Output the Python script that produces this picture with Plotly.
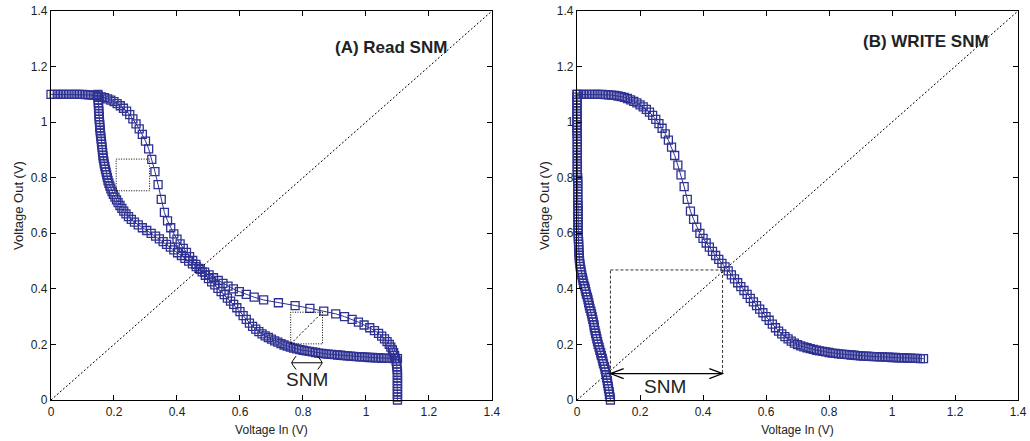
import plotly.graph_objects as go

# ---------------- data ----------------
# input sweep (V)
vin = [0.00, 0.01, 0.02, 0.03, 0.04, 0.05, 0.06, 0.07, 0.08, 0.09,
       0.10, 0.11, 0.12, 0.13, 0.14, 0.15, 0.16, 0.17, 0.18, 0.19,
       0.20, 0.21, 0.22, 0.23, 0.24, 0.25, 0.26, 0.27, 0.28, 0.29,
       0.30, 0.31, 0.32, 0.33, 0.34, 0.35, 0.36, 0.37, 0.38, 0.39,
       0.40, 0.41, 0.42, 0.43, 0.44, 0.45, 0.46, 0.47, 0.48, 0.49,
       0.50, 0.51, 0.52, 0.53, 0.54, 0.55, 0.56, 0.57, 0.58, 0.59,
       0.60, 0.61, 0.62, 0.63, 0.64, 0.65, 0.66, 0.67, 0.68, 0.69,
       0.70, 0.71, 0.72, 0.73, 0.74, 0.75, 0.76, 0.77, 0.78, 0.79,
       0.80, 0.81, 0.82, 0.83, 0.84, 0.85, 0.86, 0.87, 0.88, 0.89,
       0.90, 0.91, 0.92, 0.93, 0.94, 0.95, 0.96, 0.97, 0.98, 0.99,
       1.00, 1.01, 1.02, 1.03, 1.04, 1.05, 1.06, 1.07, 1.08, 1.09,
       1.10]

# (A) read: inverter output vs vin (the other half of the butterfly is its mirror)
read_vout = [1.100, 1.100, 1.100, 1.100, 1.100, 1.100, 1.100, 1.100, 1.100, 1.100,
             1.100, 1.099, 1.098, 1.097, 1.096, 1.094, 1.091, 1.088, 1.084, 1.079,
             1.074, 1.067, 1.059, 1.050, 1.040, 1.027, 1.012, 0.994, 0.976, 0.956,
             0.932, 0.904, 0.866, 0.822, 0.775, 0.722, 0.675, 0.645, 0.620, 0.598,
             0.579, 0.562, 0.546, 0.531, 0.516, 0.502, 0.488, 0.474, 0.461, 0.449,
             0.437, 0.425, 0.414, 0.402, 0.390, 0.379, 0.367, 0.356, 0.344, 0.332,
             0.318, 0.304, 0.290, 0.277, 0.265, 0.255, 0.246, 0.238, 0.231, 0.225,
             0.219, 0.213, 0.208, 0.203, 0.198, 0.194, 0.190, 0.187, 0.184, 0.181,
             0.179, 0.177, 0.175, 0.173, 0.171, 0.169, 0.168, 0.166, 0.165, 0.164,
             0.163, 0.162, 0.161, 0.160, 0.159, 0.158, 0.157, 0.156, 0.155, 0.155,
             0.154, 0.153, 0.153, 0.152, 0.152, 0.151, 0.151, 0.150, 0.150, 0.149,
             0.149]

# (B) write: inverter output vs vin
write_vout = [1.100, 1.100, 1.100, 1.100, 1.100, 1.100, 1.100, 1.100, 1.100, 1.099,
              1.098, 1.097, 1.096, 1.094, 1.092, 1.089, 1.085, 1.080, 1.075, 1.069,
              1.062, 1.055, 1.046, 1.036, 1.024, 1.010, 0.995, 0.978, 0.958, 0.935,
              0.910, 0.880, 0.845, 0.810, 0.768, 0.722, 0.680, 0.650, 0.622, 0.600,
              0.582, 0.565, 0.550, 0.535, 0.520, 0.506, 0.492, 0.479, 0.465, 0.450,
              0.436, 0.422, 0.408, 0.394, 0.380, 0.366, 0.353, 0.340, 0.327, 0.314,
              0.300, 0.287, 0.273, 0.260, 0.248, 0.238, 0.228, 0.220, 0.212, 0.205,
              0.199, 0.195, 0.191, 0.188, 0.185, 0.182, 0.179, 0.177, 0.175, 0.173,
              0.171, 0.169, 0.168, 0.166, 0.165, 0.164, 0.163, 0.162, 0.161, 0.160,
              0.159, 0.158, 0.158, 0.157, 0.156, 0.156, 0.155, 0.155, 0.154, 0.154,
              0.153, 0.153, 0.152, 0.152, 0.152, 0.151, 0.151, 0.150, 0.150, 0.149,
              0.149]

# (B) write: second inverter, input (x) for each output level in vin
write_b_in = [0.106, 0.105, 0.103, 0.102, 0.100, 0.099, 0.097, 0.096, 0.094, 0.093,
              0.091, 0.089, 0.087, 0.084, 0.082, 0.080, 0.077, 0.075, 0.072, 0.070,
              0.067, 0.065, 0.063, 0.061, 0.059, 0.057, 0.055, 0.054, 0.052, 0.050,
              0.048, 0.046, 0.044, 0.041, 0.039, 0.037, 0.035, 0.033, 0.030, 0.028,
              0.026, 0.024, 0.021, 0.019, 0.017, 0.015, 0.013, 0.012, 0.010, 0.009,
              0.008, 0.007, 0.007, 0.006, 0.006, 0.005, 0.005, 0.005, 0.004, 0.004,
              0.004, 0.003, 0.003, 0.003, 0.003, 0.003, 0.003, 0.003, 0.003, 0.003,
              0.003, 0.002, 0.002, 0.002, 0.002, 0.002, 0.002, 0.002, 0.002, 0.002,
              0.002, 0.001, 0.001, 0.001, 0.001, 0.001, 0.001, 0.001, 0.001, 0.001,
              0.001, 0.001, 0.001, 0.001, 0.001, 0.001, 0.000, 0.000, 0.000, 0.000,
              0.000, 0.000, 0.000, 0.000, 0.000, 0.000, 0.000, 0.000, 0.000, 0.000,
              0.000]

tick_vals = [0, 0.2, 0.4, 0.6, 0.8, 1.0, 1.2, 1.4]
tick_text = ["0", "0.2", "0.4", "0.6", "0.8", "1", "1.2", "1.4"]
panel_titles = ["(A) Read SNM", "(B) WRITE SNM"]
x_title = "Voltage In (V)"
y_title = "Voltage Out (V)"

# ---------------- styling ----------------
BLUE = "#2e3192"
FONT = "Liberation Sans, Arial, Helvetica, sans-serif"


def curve(x, y, xa, ya):
    return go.Scatter(
        x=x, y=y, xaxis=xa, yaxis=ya, mode="lines+markers",
        line=dict(color=BLUE, width=1),
        marker=dict(symbol="square-open", size=8, color=BLUE, line=dict(width=1.3)),
        cliponaxis=False, showlegend=False, hoverinfo="x+y",
    )


fig = go.Figure()
# panel A: butterfly curve (second half mirrored)
fig.add_trace(curve(vin, read_vout, "x", "y"))
fig.add_trace(curve(read_vout, vin, "x", "y"))
# panel B
fig.add_trace(curve(vin, write_vout, "x2", "y2"))
fig.add_trace(curve(write_b_in, vin, "x2", "y2"))


def axis(domain, anchor, title, title_size, standoff):
    return dict(
        domain=domain, anchor=anchor, range=[0, 1.4], automargin=False,
        tickmode="array", tickvals=tick_vals, ticktext=tick_text,
        ticks="inside", ticklen=5, tickwidth=1, tickcolor="black",
        showline=True, linecolor="black", linewidth=1.3, mirror="allticks",
        showgrid=False, zeroline=False,
        tickfont=dict(family=FONT, size=12, color="#222"),
        title=dict(text=title, font=dict(family=FONT, size=title_size, color="#222"),
                   standoff=standoff),
    )


fig.update_layout(
    width=1030, height=441,
    margin=dict(l=51, r=12, t=11, b=41),
    paper_bgcolor="white", plot_bgcolor="white",
    xaxis=axis([0, 0.456], "y", x_title, 12, 8),
    yaxis=axis([0, 1], "x", y_title, 13, 4),
    xaxis2=axis([0.544, 1], "y2", x_title, 12, 8),
    yaxis2=axis([0, 1], "x2", y_title, 13, 4),
)

shapes = []
# y = x reference lines
for xr, yr in (("x", "y"), ("x2", "y2")):
    shapes.append(dict(type="line", xref=xr, yref=yr, x0=0, y0=0, x1=1.4, y1=1.4,
                       line=dict(color="black", width=1, dash="2px,2px")))

# panel A: dotted squares
shapes.append(dict(type="rect", xref="x", yref="y", x0=0.207, y0=0.753, x1=0.313, y1=0.867,
                   line=dict(color="black", width=1, dash="1px,1.5px")))
shapes.append(dict(type="rect", xref="x", yref="y", x0=0.761, y0=0.202, x1=0.862, y1=0.316,
                   line=dict(color="black", width=1, dash="1px,1.5px")))
shapes.append(dict(type="line", xref="x", yref="y", x0=0.761, y0=0.202, x1=0.862, y1=0.316,
                   line=dict(color="black", width=1, dash="2px,2px")))
# panel A: SNM double arrow
ya = 0.134
shapes.append(dict(type="line", xref="x", yref="y", x0=0.764, y0=ya, x1=0.861, y1=ya,
                   line=dict(color="black", width=1)))
shapes.append(dict(type="path", xref="x", yref="y",
                   path=f"M {0.778},{ya + 0.024} Q {0.766},{ya + 0.006} {0.764},{ya} Q {0.766},{ya - 0.006} {0.778},{ya - 0.024}",
                   line=dict(color="black", width=1)))
shapes.append(dict(type="path", xref="x", yref="y",
                   path=f"M {0.847},{ya + 0.024} Q {0.859},{ya + 0.006} {0.861},{ya} Q {0.859},{ya - 0.006} {0.847},{ya - 0.024}",
                   line=dict(color="black", width=1)))

# panel B: dashed box + SNM arrow
xl, xr_, yb, yt = 0.106, 0.462, 0.095, 0.468
dash_b = "3px,2px"
shapes.append(dict(type="line", xref="x2", yref="y2", x0=xl, y0=yb, x1=xl, y1=yt,
                   line=dict(color="#333", width=1, dash=dash_b)))
shapes.append(dict(type="line", xref="x2", yref="y2", x0=xl, y0=yt, x1=xr_, y1=yt,
                   line=dict(color="#333", width=1, dash=dash_b)))
shapes.append(dict(type="line", xref="x2", yref="y2", x0=xr_, y0=yt, x1=xr_, y1=yb,
                   line=dict(color="#333", width=1, dash=dash_b)))
shapes.append(dict(type="line", xref="x2", yref="y2", x0=xl, y0=yb, x1=xr_, y1=yb,
                   line=dict(color="black", width=1.2)))
shapes.append(dict(type="path", xref="x2", yref="y2",
                   path=f"M {xl + 0.042},{yb + 0.018} L {xl},{yb} L {xl + 0.042},{yb - 0.018}",
                   line=dict(color="black", width=1.2)))
shapes.append(dict(type="path", xref="x2", yref="y2",
                   path=f"M {xr_ - 0.042},{yb + 0.018} L {xr_},{yb} L {xr_ - 0.042},{yb - 0.018}",
                   line=dict(color="black", width=1.2)))

fig.update_layout(shapes=shapes)

annotations = [
    dict(text=f"<b>{panel_titles[0]}</b>", xref="x", yref="y", x=1.080, y=1.267,
         showarrow=False, font=dict(family=FONT, size=17, color="#222")),
    dict(text=f"<b>{panel_titles[1]}</b>", xref="x2", yref="y2", x=1.107, y=1.29,
         showarrow=False, font=dict(family=FONT, size=17, color="#222")),
    dict(text="SNM", xref="x", yref="y", x=0.812, y=0.072,
         showarrow=False, font=dict(family=FONT, size=19, color="#222")),
    dict(text="SNM", xref="x2", yref="y2", x=0.278, y=0.048,
         showarrow=False, font=dict(family=FONT, size=19, color="#222")),
]
fig.update_layout(annotations=annotations)

fig.write_html("out.html")
